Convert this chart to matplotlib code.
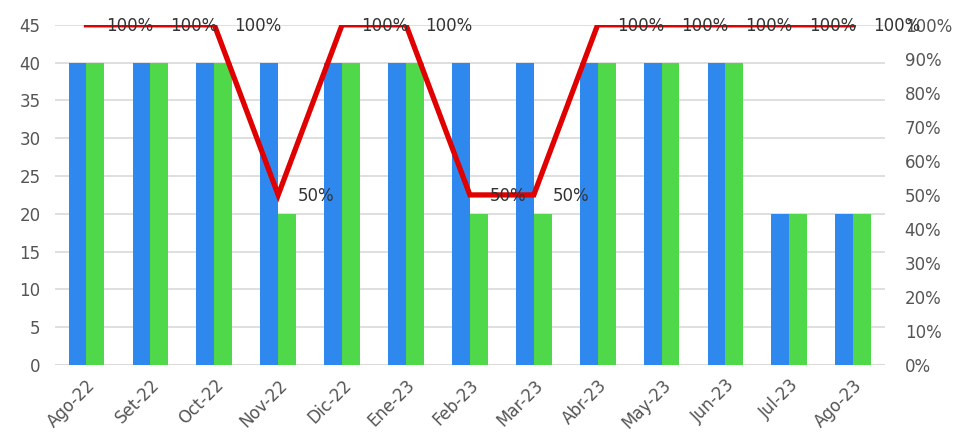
import matplotlib
matplotlib.use("Agg")
import matplotlib.pyplot as plt
import numpy as np
from matplotlib.ticker import PercentFormatter

categories = ["Ago-22", "Set-22", "Oct-22", "Nov-22", "Dic-22", "Ene-23", "Feb-23",
              "Mar-23", "Abr-23", "May-23", "Jun-23", "Jul-23", "Ago-23"]
blue_vals = [40, 40, 40, 40, 40, 40, 40, 40, 40, 40, 40, 20, 20]
green_vals = [40, 40, 40, 20, 40, 40, 20, 20, 40, 40, 40, 20, 20]
pct_vals = [1.0, 1.0, 1.0, 0.5, 1.0, 1.0, 0.5, 0.5, 1.0, 1.0, 1.0, 1.0, 1.0]

plt.rcParams['font.family'] = ['DejaVu Sans']

fig = plt.figure(figsize=(9.57, 4.43), dpi=100)
ax = fig.add_axes([0.057, 0.176, 0.868, 0.768])
x = np.arange(len(categories))
w = 0.28
ax.bar(x - w / 2, blue_vals, width=w, color="#2F88EE", zorder=2)
ax.bar(x + w / 2, green_vals, width=w, color="#4FD94A", zorder=2)

ax.set_ylim(0, 45)
ax.set_yticks(np.arange(0, 46, 5))
ax.set_xlim(-0.5, len(categories) - 0.5)
ax.grid(axis='y', color="#D9D9D9", linewidth=1.2, zorder=0)
ax.set_axisbelow(True)
for s in ax.spines.values():
    s.set_visible(False)
ax.axhline(0, color="#D9D9D9", linewidth=1.2, zorder=1)
ax.tick_params(axis='both', length=0, labelsize=12, colors="#555555")
ax.tick_params(axis='y', pad=10)
ax.tick_params(axis='x', pad=8)
ax.set_xticks(x)
ax.set_xticklabels(categories, rotation=45, ha='right', rotation_mode='anchor')

ax2 = ax.twinx()
ax2.set_ylim(0, 1)
ax2.set_yticks(np.arange(0, 1.01, 0.1))
ax2.yaxis.set_major_formatter(PercentFormatter(1.0, decimals=0))
for s in ax2.spines.values():
    s.set_visible(False)
ax2.tick_params(axis='y', length=0, labelsize=12, colors="#555555", pad=14)
ax2.plot(x, pct_vals, color="#E00000", linewidth=3.8, solid_joinstyle='miter', zorder=3)
for xi, v in zip(x, pct_vals):
    ax2.annotate(f"{v*100:.0f}%", (xi, v), xytext=(14, -1), textcoords='offset points',
                 ha='left', va='center', fontsize=12, color="#333333", zorder=4)

fig.savefig("out.png", dpi=100)
